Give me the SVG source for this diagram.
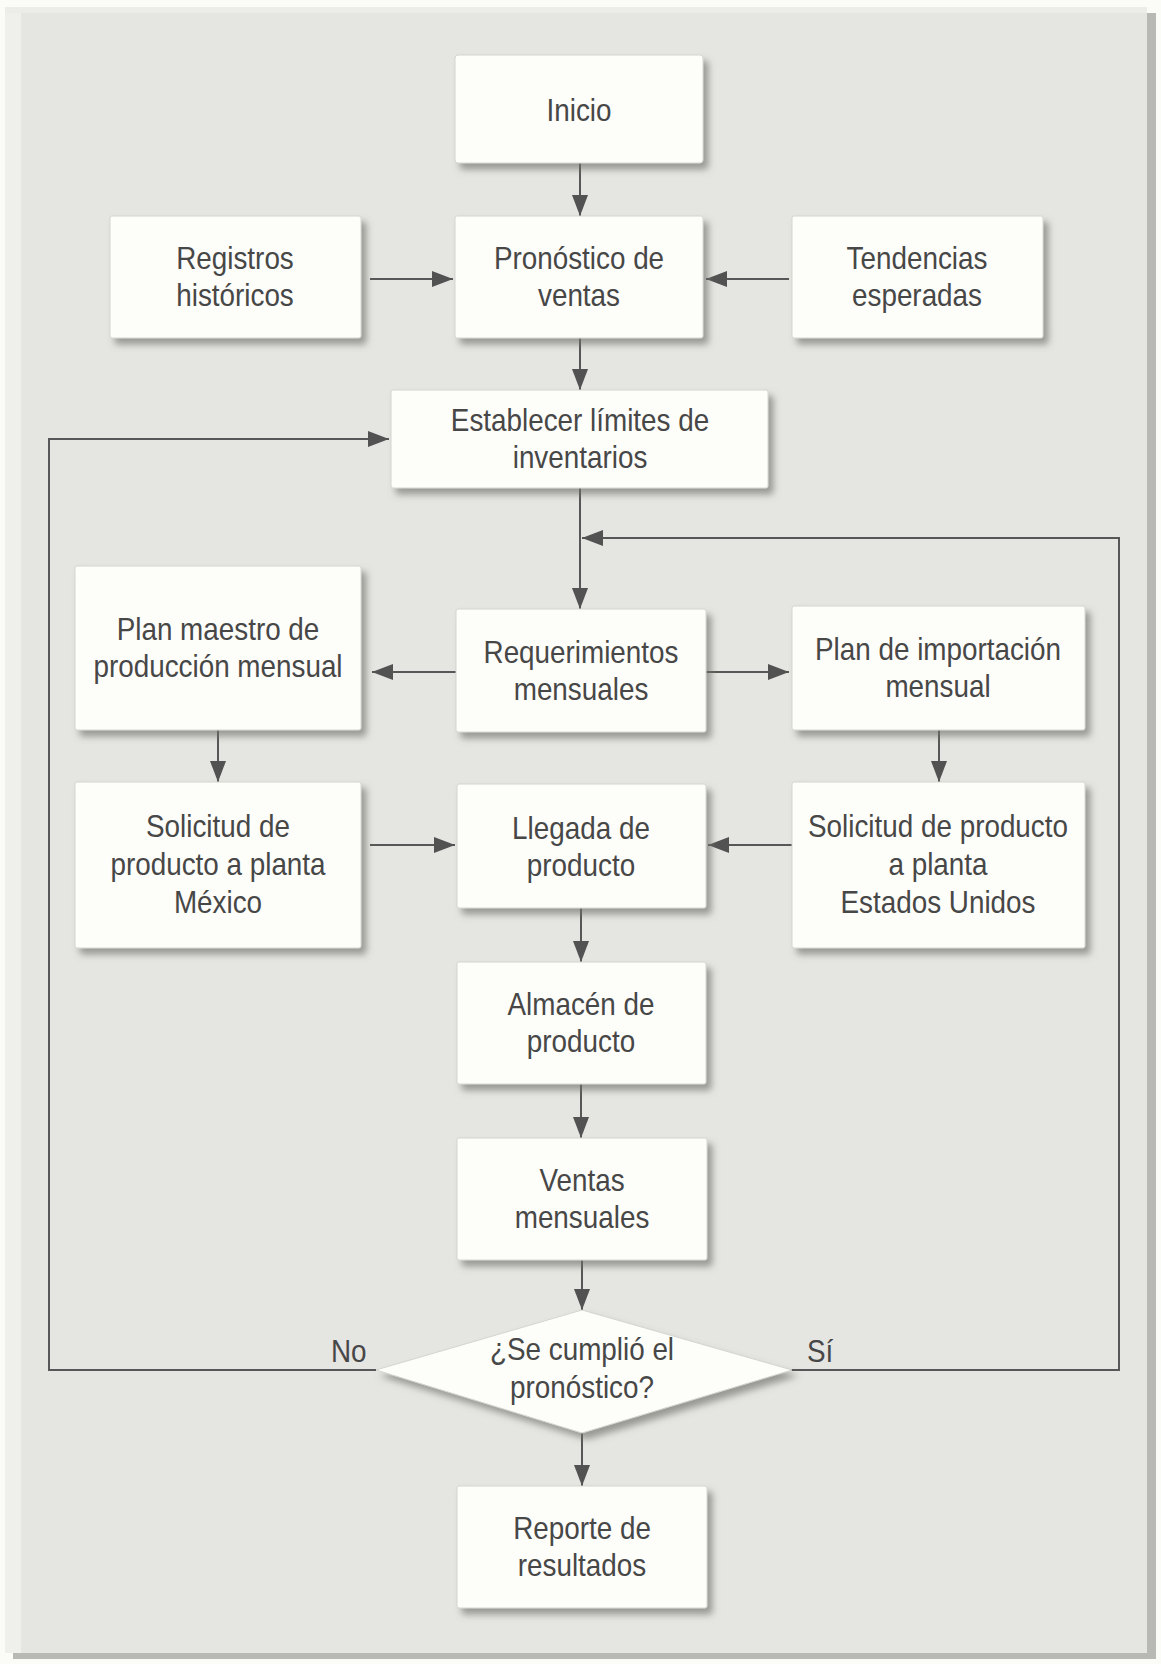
<svg xmlns="http://www.w3.org/2000/svg" width="1161" height="1664" viewBox="0 0 1161 1664">
<style>
.box{fill:#fdfdfa;stroke:#d4d4d0;stroke-width:1;filter:url(#sh)}
.t{font-family:"Liberation Sans",Arial,sans-serif;font-size:32px;fill:#474747;text-anchor:middle}
.lbl{font-family:"Liberation Sans",Arial,sans-serif;font-size:32px;fill:#474747}
.c{fill:none;stroke:#575757;stroke-width:2}
.a{marker-end:url(#ah)}
</style>
<defs>
<filter id="sh" x="-10%" y="-10%" width="125%" height="130%">
<feDropShadow dx="5" dy="6" stdDeviation="3.5" flood-color="#6f6f6b" flood-opacity="0.65"/>
</filter>
<marker id="ah" markerUnits="userSpaceOnUse" markerWidth="22" markerHeight="16" refX="21" refY="8" orient="auto">
<path d="M0,0 L21,8 L0,16 Z" fill="#525252"/>
</marker>
</defs>
<rect x="0" y="0" width="1161" height="1664" fill="#fbfbf8"/>
<rect x="13" y="13" width="1143" height="1646" fill="#b8b8b4"/>
<rect x="5" y="7" width="1142" height="1646" fill="#e5e5e2"/>
<rect x="5" y="7" width="16" height="1646" fill="#efefeb"/>
<rect x="5" y="7" width="1142" height="6" fill="#ececE8"/>

<g id="connectors">
<path class="c a" d="M580,163 V216"/>
<path class="c a" d="M370,279 H453"/>
<path class="c a" d="M789,279 H706"/>
<path class="c a" d="M580,338 V390"/>
<path class="c a" d="M580,488 V609"/>
<path class="c a" d="M456,672 H372"/>
<path class="c a" d="M706,672 H789"/>
<path class="c a" d="M218,730 V782"/>
<path class="c a" d="M939,730 V782"/>
<path class="c a" d="M370,845 H455"/>
<path class="c a" d="M792,845 H708"/>
<path class="c a" d="M581,908 V962"/>
<path class="c a" d="M581,1084 V1138"/>
<path class="c a" d="M582,1260 V1310"/>
<path class="c a" d="M582,1433 V1486"/>
<path class="c a" d="M376,1370 H49 V439 H389"/>
<path class="c a" d="M791,1370 H1119 V538 H582"/>
<text class="lbl" transform="translate(331 1362) scale(0.87 1)" x="0" y="0">No</text>
<text class="lbl" transform="translate(807 1362) scale(0.87 1)" x="0" y="0">Sí</text>
</g>

<g id="inicio">
<rect class="box" x="455" y="55" width="248" height="108" rx="3"/>
<text class="t" transform="translate(579 0) scale(0.87 1)" x="0" y="121">Inicio</text>
</g>
<g id="registros">
<rect class="box" x="110" y="216" width="251" height="122" rx="2"/>
<text class="t" transform="translate(235 0) scale(0.87 1)"><tspan x="0" y="269">Registros</tspan><tspan x="0" y="306">históricos</tspan></text>
</g>
<g id="pronostico">
<rect class="box" x="455" y="216" width="248" height="122" rx="2"/>
<text class="t" transform="translate(579 0) scale(0.87 1)"><tspan x="0" y="269">Pronóstico de</tspan><tspan x="0" y="306">ventas</tspan></text>
</g>
<g id="tendencias">
<rect class="box" x="792" y="216" width="251" height="122" rx="2"/>
<text class="t" transform="translate(917 0) scale(0.87 1)"><tspan x="0" y="269">Tendencias</tspan><tspan x="0" y="306">esperadas</tspan></text>
</g>
<g id="establecer">
<rect class="box" x="391" y="390" width="377" height="98" rx="2"/>
<text class="t" transform="translate(580 0) scale(0.87 1)"><tspan x="0" y="431">Establecer límites de</tspan><tspan x="0" y="468">inventarios</tspan></text>
</g>
<g id="plan-maestro">
<rect class="box" x="75" y="566" width="286" height="164" rx="2"/>
<text class="t" transform="translate(218 0) scale(0.87 1)"><tspan x="0" y="640">Plan maestro de</tspan><tspan x="0" y="677">producción mensual</tspan></text>
</g>
<g id="requerimientos">
<rect class="box" x="456" y="609" width="250" height="123" rx="2"/>
<text class="t" transform="translate(581 0) scale(0.87 1)"><tspan x="0" y="663">Requerimientos</tspan><tspan x="0" y="700">mensuales</tspan></text>
</g>
<g id="plan-importacion">
<rect class="box" x="792" y="606" width="293" height="124" rx="2"/>
<text class="t" transform="translate(938 0) scale(0.87 1)"><tspan x="0" y="660">Plan de importación</tspan><tspan x="0" y="697">mensual</tspan></text>
</g>
<g id="solicitud-mexico">
<rect class="box" x="75" y="782" width="286" height="166" rx="2"/>
<text class="t" transform="translate(218 0) scale(0.87 1)"><tspan x="0" y="837">Solicitud de</tspan><tspan x="0" y="875">producto a planta</tspan><tspan x="0" y="913">México</tspan></text>
</g>
<g id="llegada">
<rect class="box" x="457" y="784" width="249" height="124" rx="2"/>
<text class="t" transform="translate(581 0) scale(0.87 1)"><tspan x="0" y="839">Llegada de</tspan><tspan x="0" y="876">producto</tspan></text>
</g>
<g id="solicitud-eeuu">
<rect class="box" x="792" y="782" width="293" height="166" rx="2"/>
<text class="t" transform="translate(938 0) scale(0.87 1)"><tspan x="0" y="837">Solicitud de producto</tspan><tspan x="0" y="875">a planta</tspan><tspan x="0" y="913">Estados Unidos</tspan></text>
</g>
<g id="almacen">
<rect class="box" x="457" y="962" width="249" height="122" rx="2"/>
<text class="t" transform="translate(581 0) scale(0.87 1)"><tspan x="0" y="1015">Almacén de</tspan><tspan x="0" y="1052">producto</tspan></text>
</g>
<g id="ventas">
<rect class="box" x="457" y="1138" width="250" height="122" rx="2"/>
<text class="t" transform="translate(582 0) scale(0.87 1)"><tspan x="0" y="1191">Ventas</tspan><tspan x="0" y="1228">mensuales</tspan></text>
</g>
<g id="decision">
<polygon class="box" points="582,1310 792,1370 582,1433 376,1370"/>
<text class="t" transform="translate(582 0) scale(0.87 1)"><tspan x="0" y="1360">¿Se cumplió el</tspan><tspan x="0" y="1398">pronóstico?</tspan></text>
</g>
<g id="reporte">
<rect class="box" x="457" y="1486" width="250" height="122" rx="2"/>
<text class="t" transform="translate(582 0) scale(0.87 1)"><tspan x="0" y="1539">Reporte de</tspan><tspan x="0" y="1576">resultados</tspan></text>
</g>
</svg>
